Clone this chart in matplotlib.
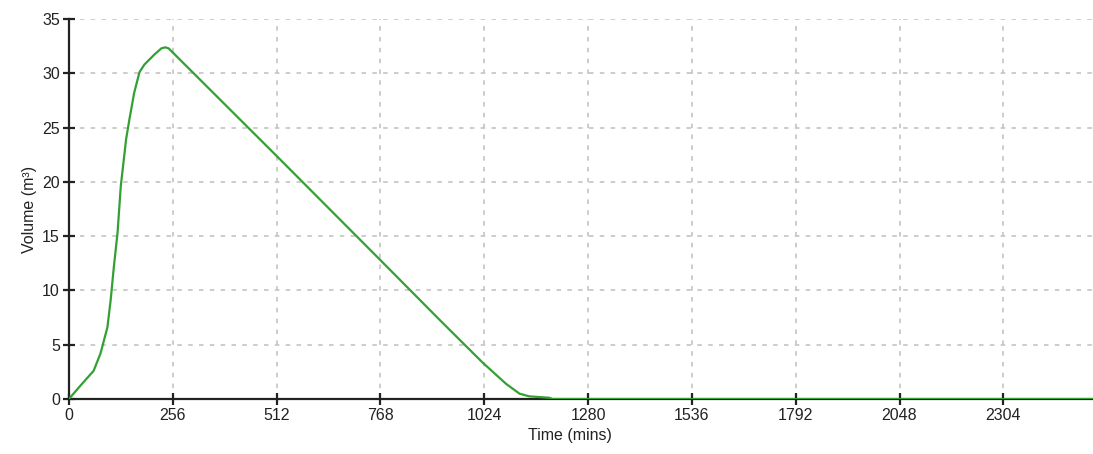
import numpy as np
import matplotlib
matplotlib.use("Agg")
from matplotlib import pyplot as plt


# Values
time_mins = [0, 30, 61, 78, 95, 103, 111, 120, 128, 141, 149, 161, 174, 186,
             210, 228, 238, 246, 512, 768, 914, 1019, 1078, 1111, 1135,
             1185, 1192, 2525]
volume_m3 = [0, 1.3, 2.6, 4.2, 6.6, 9.1, 12.2, 15.3, 19.6, 23.9, 25.7, 28.2,
             30.1, 30.8, 31.7, 32.3, 32.4, 32.3, 22.4, 12.8, 7.3, 3.4, 1.4,
             0.5, 0.25, 0.12, 0, 0]

x_ticks = [0, 256, 512, 768, 1024, 1280, 1536, 1792, 2048, 2304]
y_ticks = [0, 5, 10, 15, 20, 25, 30, 35]


def main():
	plt.rcParams['font.family'] = ['Liberation Sans', 'DejaVu Sans']

	fig = plt.figure(figsize=(10.93, 4.54), dpi=100)
	ax = fig.add_axes([0.063, 0.121, 0.937, 0.837])

	ax.plot(time_mins, volume_m3, color='#33a033', linewidth=1.6, zorder=3)

	ax.set_xlim(0, 2525)
	ax.set_ylim(0, 35)
	ax.set_xticks(x_ticks)
	ax.set_yticks(y_ticks)

	# Dotted grey grid, no frame on top / right
	ax.grid(True, color='#c8c8c8', linestyle=(0, (2.5, 3.5)), linewidth=1.3)
	ax.set_axisbelow(True)
	ax.spines['top'].set_visible(False)
	ax.spines['right'].set_visible(False)
	ax.spines['left'].set_linewidth(1.6)
	ax.spines['bottom'].set_linewidth(1.6)
	ax.spines['left'].set_color('#222222')
	ax.spines['bottom'].set_color('#222222')

	ax.tick_params(direction='inout', length=9, width=1.6, color='#222222',
				   labelsize=11.5, labelcolor='#222222', pad=2)

	ax.set_xlabel('Time (mins)', fontsize=11.5, color='#222222', labelpad=1)
	ax.set_ylabel('Volume (m³)', fontsize=11.5, color='#222222', labelpad=4)
	ax.xaxis.set_label_coords(0.489, -0.075)

	plt.savefig('out.png', dpi=100)


if __name__ == "__main__":
	main()
